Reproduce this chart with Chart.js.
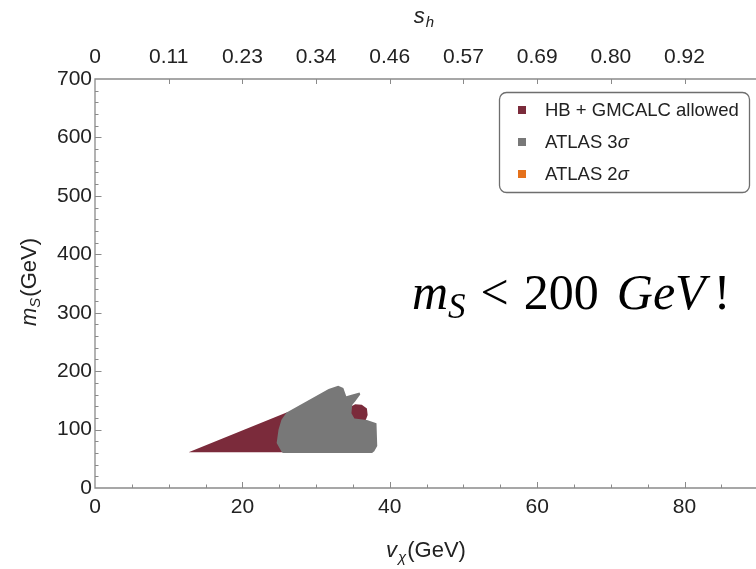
<!DOCTYPE html>
<html>
<head>
<meta charset="utf-8">
<script src="https://cdn.jsdelivr.net/npm/chart.js@4.4.0/dist/chart.umd.min.js"></script>
<style>
html, body { margin: 0; padding: 0; background: #fff; overflow: hidden; }
</style>
</head>
<body>
<canvas id="scanChart" width="756" height="569"></canvas>
<script>
// outline of the HB + GMCALC allowed region (v_chi in GeV, m_S in GeV)
var allowedV = [12.7, 26.0, 30.0, 34.8, 35.3, 36.2, 36.9, 37.0, 36.8, 36.0, 36.0, 12.7];
var allowedM = [61, 129.3, 133, 140, 143.5, 142.5, 136, 125, 118, 100, 61, 61];

// outline of the ATLAS 3 sigma region
var atlas3V = [25.5, 37.6, 37.9, 38.3, 38.2, 36.9, 35.2, 34.8, 34.9, 35.3, 36.0, 35.9, 34.8, 34.1, 33.7, 33.0, 31.7, 26.0, 25.3, 24.9, 24.65, 25.3, 25.5];
var atlas3M = [60, 60, 63, 72, 111, 116.5, 119, 128, 142, 148, 160, 163.5, 159.6, 157, 171, 175, 169.3, 129.3, 116.8, 99.7, 77, 62.6, 60];

// ATLAS 2 sigma: no points in this window
var atlas2V = [];
var atlas2M = [];

var seriesNames = ['HB + GMCALC allowed', 'ATLAS 3σ', 'ATLAS 2σ'];
var seriesColors = ['#7b2b3b', '#787878', '#e5711b'];

// top axis: s_h at v_chi = 0, 10, 20, ...
var shLabels = ['0', '0.11', '0.23', '0.34', '0.46', '0.57', '0.69', '0.80', '0.92'];

var sans = '"Liberation Sans", Arial, Helvetica, sans-serif';
var serif = '"Liberation Serif", "Times New Roman", serif';
var frameColor = '#8a8a8a';
var textColor = '#222';

function toPoints(xs, ys) {
  var pts = [];
  for (var i = 0; i < xs.length; i++) pts.push({ x: xs[i], y: ys[i] });
  return pts;
}

// frame lines with inward ticks, like a Mathematica frame
var framePlugin = {
  id: 'frame',
  afterDatasetsDraw: function (chart) {
    var ctx = chart.ctx, a = chart.chartArea;
    var sx = chart.scales.x, sy = chart.scales.y;
    ctx.save();
    ctx.strokeStyle = frameColor;
    ctx.lineWidth = 1.3;
    ctx.beginPath();
    ctx.moveTo(a.right + 2, a.top); ctx.lineTo(a.left, a.top);
    ctx.lineTo(a.left, a.bottom); ctx.lineTo(a.right + 2, a.bottom);
    ctx.stroke();
    ctx.lineWidth = 1;
    ctx.beginPath();
    var v, px, len;
    for (v = 5; v < sx.max; v += 5) {
      px = Math.round(sx.getPixelForValue(v)) + 0.5;
      len = (v % 20 === 0) ? 6 : 3.5;
      ctx.moveTo(px, a.bottom); ctx.lineTo(px, a.bottom - len);
    }
    for (v = 10; v < sx.max; v += 10) {
      px = Math.round(sx.getPixelForValue(v)) + 0.5;
      ctx.moveTo(px, a.top); ctx.lineTo(px, a.top + 5);
    }
    for (v = 20; v < sy.max; v += 20) {
      px = Math.round(sy.getPixelForValue(v)) + 0.5;
      len = (v % 100 === 0) ? 6.5 : 3.5;
      ctx.moveTo(a.left, px); ctx.lineTo(a.left + len, px);
    }
    ctx.stroke();
    ctx.restore();
  }
};

// draw a run of [text, font, dy, gapBefore] pieces starting at x
function drawRun(ctx, pieces, x, y) {
  for (var i = 0; i < pieces.length; i++) {
    var p = pieces[i];
    ctx.font = p[1];
    if (p[3]) x += p[3];
    ctx.fillText(p[0], x, y + (p[2] || 0));
    x += ctx.measureText(p[0]).width;
  }
  return x;
}
function runWidth(ctx, pieces) {
  var w = 0;
  for (var i = 0; i < pieces.length; i++) {
    ctx.font = pieces[i][1];
    w += ctx.measureText(pieces[i][0]).width + (pieces[i][3] || 0);
  }
  return w;
}

var labelsPlugin = {
  id: 'labels',
  afterDraw: function (chart) {
    var ctx = chart.ctx;
    ctx.save();
    ctx.fillStyle = textColor;
    ctx.textBaseline = 'alphabetic';
    ctx.textAlign = 'left';

    var it = 'italic 22px ' + sans, itSub = 'italic 15px ' + sans, rm = '22px ' + sans;

    // bottom title: v_chi (GeV)
    var bottom = [['v', it, 0], ['χ', itSub, 5, 1], ['(GeV)', rm, 0, 1]];
    drawRun(ctx, bottom, 426 - runWidth(ctx, bottom) / 2, 557);

    // top title: s_h
    var top = [['s', it, 0], ['h', itSub, 4, 1]];
    drawRun(ctx, top, 424 - runWidth(ctx, top) / 2, 23);

    // left title: m_S (GeV), rotated
    var left = [['m', it, 0], ['S', itSub, 4, 0], ['(GeV)', rm, 0, 1]];
    ctx.save();
    ctx.translate(36, 282);
    ctx.rotate(-Math.PI / 2);
    drawRun(ctx, left, -runWidth(ctx, left) / 2, 0);
    ctx.restore();

    // legend box
    ctx.strokeStyle = '#6e6e6e';
    ctx.lineWidth = 1.3;
    ctx.beginPath();
    ctx.roundRect(499.5, 92.5, 250, 100, 7);
    ctx.fillStyle = '#fff';
    ctx.fill();
    ctx.stroke();
    var ds = chart.data.datasets;
    for (var i = 0; i < ds.length; i++) {
      var cy = 110 + i * 32;
      ctx.fillStyle = ds[i].backgroundColor;
      ctx.fillRect(518, cy - 4, 8, 8);
      ctx.fillStyle = textColor;
      ctx.textBaseline = 'middle';
      var name = ds[i].label;
      if (name.slice(-1) === 'σ') {
        drawRun(ctx, [[name.slice(0, -1), '18.5px ' + sans, 0], ['σ', 'italic 18.5px ' + sans, 0]], 545, cy + 1);
      } else {
        drawRun(ctx, [[name, '18.5px ' + sans, 0]], 545, cy + 1);
      }
    }

    // note: m_S < 200 GeV!
    ctx.textBaseline = 'alphabetic';
    ctx.fillStyle = '#000';
    var mi = 'italic 50px ' + serif, mr = '50px ' + serif, ms = 'italic 35px ' + serif;
    drawRun(ctx, [['m', mi, 0], ['S', ms, 9, 0], ['<', mr, 0, 15], ['200', mr, 0, 15],
                  ['GeV', mi, 0, 18], ['!', mr, 0, 8]], 412, 309);
    ctx.restore();
  }
};

var tickFont = { family: sans, size: 21 };

new Chart(document.getElementById('scanChart'), {
  type: 'line',
  data: {
    datasets: [
      { label: seriesNames[0], data: toPoints(allowedV, allowedM), backgroundColor: seriesColors[0],
        borderWidth: 0, pointRadius: 0, fill: 'shape', order: 2 },
      { label: seriesNames[1], data: toPoints(atlas3V, atlas3M), backgroundColor: seriesColors[1],
        borderWidth: 0, pointRadius: 0, fill: 'shape', order: 1 },
      { label: seriesNames[2], data: toPoints(atlas2V, atlas2M), backgroundColor: seriesColors[2],
        borderWidth: 0, pointRadius: 0, fill: 'shape', order: 0 }
    ]
  },
  options: {
    responsive: false,
    animation: false,
    events: [],
    layout: { padding: 0 },
    plugins: { legend: { display: false }, tooltip: { enabled: false } },
    scales: {
      x: {
        type: 'linear', position: 'bottom', min: 0, max: 89.7,
        grid: { display: false, drawTicks: false }, border: { display: false },
        ticks: { stepSize: 20, includeBounds: false, autoSkip: false, maxRotation: 0,
                 font: tickFont, color: textColor, padding: 7 },
        afterFit: function (s) { s.height = 81; }
      },
      x2: {
        type: 'linear', position: 'top', min: 0, max: 89.7,
        grid: { display: false, drawTicks: false }, border: { display: false },
        ticks: { stepSize: 10, includeBounds: false, autoSkip: false, maxRotation: 0,
                 font: tickFont, color: textColor, padding: 9,
                 callback: function (v) { var i = Math.round(v / 10); return shLabels[i] !== undefined ? shLabels[i] : ''; } },
        afterFit: function (s) { s.height = 79; }
      },
      y: {
        min: 0, max: 700,
        grid: { display: false, drawTicks: false }, border: { display: false },
        ticks: { stepSize: 100, font: tickFont, color: textColor, padding: 3 },
        afterFit: function (s) { s.width = 95; }
      }
    }
  },
  plugins: [framePlugin, labelsPlugin]
});
</script>
</body>
</html>
